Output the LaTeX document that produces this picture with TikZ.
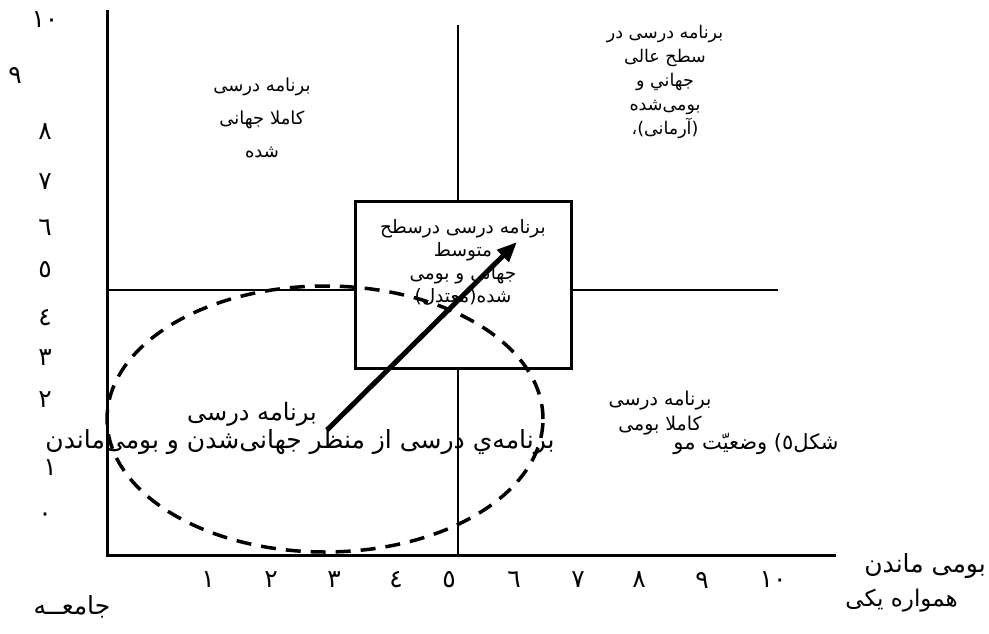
\documentclass[tikz,border=0pt]{standalone}
\usepackage{fontspec}
\usetikzlibrary{arrows.meta,positioning}
\newfontfamily\arabicfont[Script=Arabic]{DejaVu Sans}
\TeXXeTstate=1
\newcommand{\rtl}[1]{\beginR #1\endR}
\tikzset{
  axisline/.style={line width=3pt},
  midline/.style={line width=2.6pt},
  fatext/.style={font=\arabicfont\fontsize{18}{25}\selectfont, align=center, inner sep=0pt},
  bigtext/.style={font=\arabicfont\fontsize{24}{28}\selectfont, inner sep=0pt},
  ticklabel/.style={font=\arabicfont\fontsize{25}{28}\selectfont, inner sep=0pt},
  midbox/.style={draw, line width=2.6pt, fill=white, minimum width=216pt, minimum height=167pt},
  spread/.style={line width=3.5pt, dash pattern=on 15pt off 10pt},
  trend/.style={-{Triangle[length=20pt,width=16pt]}, line width=5pt}
}
\begin{document}
\begin{tikzpicture}[x=1pt, y=-1pt]
  \useasboundingbox (0,0) rectangle (989,633);
  % axes and quadrant lines
  \coordinate (o) at (107,555);
  \coordinate (ytop) at (107,10);
  \coordinate (xend) at (836,555);
  \coordinate (vtop) at (458,25);
  \coordinate (vbot) at (458,555);
  \coordinate (hleft) at (107,290);
  \coordinate (hright) at (778,290);
  \draw[midline] (vtop) -- (vbot);
  \draw[midline] (hleft) -- (hright);
  \draw[axisline] (ytop) -- (o) -- (xend);
  % middle box
  \node[midbox] (mid) at (463.5,285) {};
  \node[fatext, font=\arabicfont\fontsize{18.5}{23}\selectfont] (midtxt) at (463,262)
    {\rtl{برنامه درسی درسطح}\\\rtl{متوسط}\\\rtl{جهانی و بومی}\\\rtl{شده(معتدل)}};
  % quadrant labels
  \node[fatext, font=\arabicfont\fontsize{18}{33}\selectfont] (global) at (262,118)
    {\rtl{برنامه درسی}\\\rtl{کاملا جهانی}\\\rtl{شده}};
  \node[fatext, font=\arabicfont\fontsize{17.5}{24}\selectfont] (ideal) at (665,82)
    {\rtl{برنامه درسی در}\\\rtl{سطح عالی}\\\rtl{جهاني و}\\\rtl{بومی‌شده}\\\rtl{(آرمانی)،}};
  \node[fatext, font=\arabicfont\fontsize{19}{25}\selectfont] (local) at (660,413)
    {\rtl{برنامه  درسی}\\\rtl{کاملا بومی}};
  % spread of the curriculum
  \draw[spread] (325,419) ellipse [x radius=218pt, y radius=133pt];
  \node[bigtext] (cur) at (252,414) {\rtl{برنامه درسی}};
  \coordinate (from) at (327,430);
  \coordinate (to) at (517,242);
  \draw[trend] (from) -- (to);
  % caption pieces
  \node[bigtext, font=\arabicfont\fontsize{25}{28}\selectfont] (capa) at (300,442)
    {\rtl{برنامه‌ي درسی از منظر جهانی‌شدن و بومی‌ماندن}};
  \node[bigtext, font=\arabicfont\fontsize{21}{26}\selectfont] (capb) at (756,444)
    {\rtl{شکل٥) وضعیّت مو}};
  % axis labels
  \node[ticklabel, anchor=east] (xname) at (986,566) {\rtl{بومی ماندن}};
  \node[ticklabel, font=\arabicfont\fontsize{23}{26}\selectfont, anchor=east] (xname2) at (958,601) {\rtl{همواره یکی}};
  \node[ticklabel] (yname) at (72,607) {\rtl{جامعــه}};
  \foreach \n/\px in {١/208, ٢/271, ٣/334, ٤/396, ٥/449, ٦/514, ٧/578, ٨/639, ٩/702, ١٠/773}
    \node[ticklabel] at (\px,580) {\n};
  \foreach \n/\px/\py in {١٠/45/20, ٩/15/75, ٨/45/132, ٧/45/182, ٦/45/228, ٥/45/270,
      ٤/45/318, ٣/45/358, ٢/45/400, ١/50/468, ٠/45/517}
    \node[ticklabel] at (\px,\py) {\n};
\end{tikzpicture}
\end{document}
